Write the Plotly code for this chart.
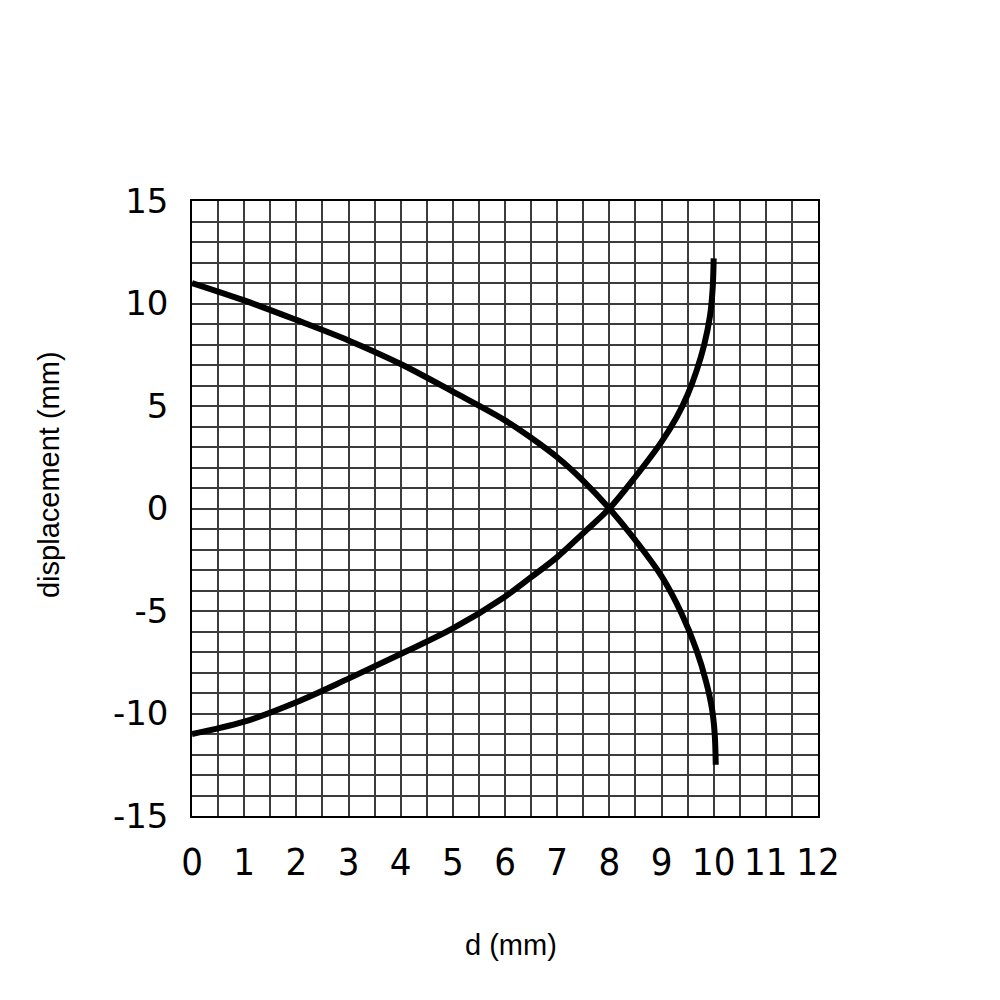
import plotly.graph_objects as go

# Curve A: decreasing displacement vs d
d_a = [0, 1, 2, 3, 4, 5, 6, 6.5, 7, 7.5, 8, 8.5, 9.0, 9.38, 9.67, 9.85, 9.97, 10.02, 10.04]
disp_a = [11, 10.15, 9.2, 8.2, 7.05, 5.7, 4.3, 3.45, 2.5, 1.35, 0, -1.55, -3.3, -5.1, -6.9, -8.4, -9.8, -11.0, -12.5]

# Curve B: increasing displacement vs d
d_b = [0, 1, 2, 3, 4, 5, 6, 6.5, 7, 7.5, 8, 8.5, 9.0, 9.29, 9.5, 9.67, 9.82, 9.93, 9.98, 10.0]
disp_b = [-11, -10.4, -9.45, -8.3, -7.1, -5.85, -4.3, -3.35, -2.37, -1.2, 0, 1.55, 3.25, 4.45, 5.55, 6.7, 8.0, 9.4, 10.7, 12.2]

x_ticks = list(range(0, 13))
y_ticks = [-15, -10, -5, 0, 5, 10, 15]

fig = go.Figure()
for xs, ys in [(d_a, disp_a), (d_b, disp_b)]:
    fig.add_trace(go.Scatter(x=xs, y=ys, mode="lines",
                             line=dict(color="black", width=6, shape="spline", smoothing=1.0),
                             showlegend=False, hoverinfo="skip"))

grid_col = "#3c3c3c"
fig.update_xaxes(range=[0, 12], tickvals=x_ticks, ticktext=[str(v) for v in x_ticks],
                 showgrid=True, gridcolor=grid_col, gridwidth=1.5,
                 minor=dict(dtick=0.5, showgrid=True, gridcolor=grid_col, gridwidth=1.5),
                 showline=True, linecolor="black", linewidth=1.5, mirror=True,
                 zeroline=False, ticks="", ticklabelstandoff=12,
                 tickfont=dict(family="DejaVu Sans Condensed, Liberation Sans Narrow, Liberation Sans, Arial",
                               size=38, color="black"))
fig.update_yaxes(range=[-15, 15], tickvals=y_ticks, ticktext=[str(v) for v in y_ticks],
                 showgrid=True, gridcolor=grid_col, gridwidth=1.5,
                 minor=dict(dtick=1, showgrid=True, gridcolor=grid_col, gridwidth=1.5),
                 showline=True, linecolor="black", linewidth=1.5, mirror=True,
                 zeroline=False, ticks="", ticklabelstandoff=15,
                 tickfont=dict(family="DejaVu Sans, Liberation Sans, Arial", size=34, color="black"))

fig.add_annotation(text="d (mm)", xref="paper", yref="paper", x=0.5096, y=-0.2098,
                   xanchor="center", yanchor="middle", showarrow=False,
                   font=dict(family="Liberation Sans, Arial", size=29, color="black"))
fig.add_annotation(text="displacement (mm)", xref="paper", yref="paper", x=-0.2284, y=0.5545,
                   xanchor="center", yanchor="middle", textangle=-90, showarrow=False,
                   font=dict(family="Liberation Sans, Arial", size=29, color="black"))

fig.update_layout(width=1000, height=1000, plot_bgcolor="white", paper_bgcolor="white",
                  margin=dict(l=184, r=190, t=193, b=192))
fig.write_html("out.html")
